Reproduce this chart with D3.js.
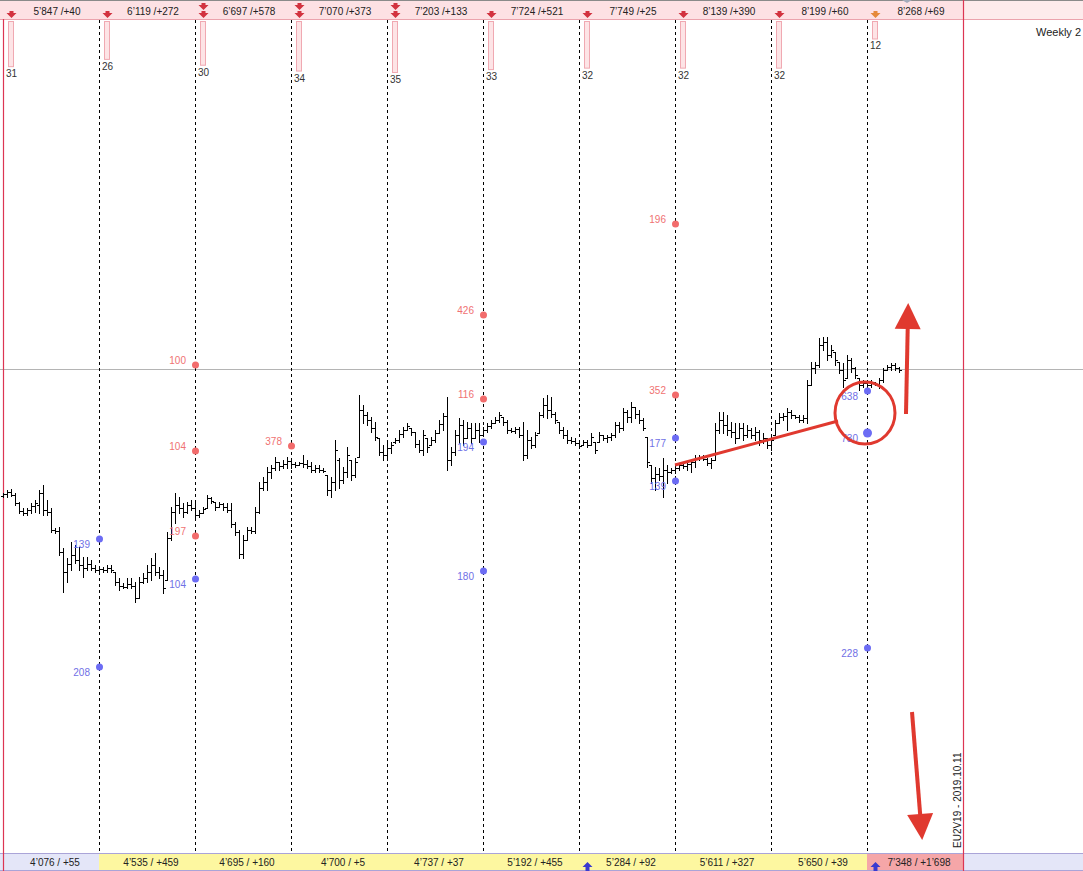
<!DOCTYPE html>
<html>
<head>
<meta charset="utf-8">
<script src="https://cdnjs.cloudflare.com/ajax/libs/d3/7.8.5/d3.min.js"></script>
<style>
body { margin: 0; background: #fff; }
svg { display: block; font-family: "Liberation Sans", Arial, sans-serif; }
</style>
</head>
<body>
<svg></svg>
<script>
var width = 1083, height = 871;
var barsPerWeek = 24;

// weekly header / footer texts
var topLabels = ["5’847 /+40", "6’119 /+272", "6’697 /+578", "7’070 /+373", "7’203 /+133",
                 "7’724 /+521", "7’749 /+25", "8’139 /+390", "8’199 /+60", "8’268 /+69"];
var bottomLabels = ["4’076 / +55", "4’535 / +459", "4’695 / +160", "4’700 / +5", "4’737 / +37",
                    "5’192 / +455", "5’284 / +92", "5’611 / +327", "5’650 / +39", "7’348 / +1’698"];
var bottomState = ["flat", "up", "up", "up", "up", "up", "up", "up", "up", "hot"];
var signalCounts = [31, 26, 30, 34, 35, 33, 32, 32, 32, 12];
var sellArrows = [1, 1, 2, 2, 2, 1, 1, 1, 1, 1];
var buyArrowLines = [6, 9];

// price bars (points)
var highs = [
  957,960,961,957,948,942,942,947,950,960,965,950,942,922,923,902,892,908,905,903,893,893,890,885,
  883,883,885,885,878,872,867,872,872,868,873,877,885,892,897,883,880,918,943,957,953,947,948,950,
  947,940,943,955,953,948,948,947,947,947,928,920,915,923,923,943,968,973,983,985,993,987,990,993,
  992,988,988,995,990,988,985,985,982,975,973,1010,992,983,1003,990,992,1055,1045,1038,1033,1028,1012,1005,
  1007,1008,1012,1020,1023,1027,1022,1018,1010,1020,1012,1013,1020,1030,1037,1053,1003,1020,1032,1030,1028,1027,1027,1027,
  1023,1027,1030,1033,1038,1033,1030,1022,1023,1023,1028,1020,1013,1018,1038,1052,1055,1053,1038,1028,1023,1020,1013,1012,
  1008,1010,1010,1017,1008,1018,1015,1015,1017,1028,1028,1042,1040,1048,1043,1040,1032,1013,985,983,982,992,985,982,
  985,987,987,988,990,995,995,995,992,992,1027,1038,1038,1035,1028,1027,1027,1027,1025,1022,1023,1020,1017,1012,
  1013,1030,1037,1037,1042,1040,1035,1035,1035,1070,1088,1088,1112,1113,1113,1105,1098,1088,1087,1095,1092,1083,1072,1070,
  1068,1070,1068,1072,1082,1085,1087,1087,1083
];
var lows = [
  953,953,954,945,937,935,935,937,938,937,935,935,918,917,895,858,868,880,887,880,873,880,880,878,
  878,878,878,878,865,860,862,862,862,848,852,867,868,870,875,872,857,870,910,927,937,933,937,940,
  932,933,937,942,947,940,943,940,938,923,915,892,892,910,917,917,937,960,960,972,980,980,982,982,
  982,983,985,983,982,978,978,978,978,955,953,960,962,967,973,970,973,993,1027,1025,1018,1010,995,990,
  990,997,1007,1008,1013,1020,1015,1003,998,995,998,1005,1008,1017,1020,980,985,995,1007,1005,1012,1007,1013,1008,
  1015,1018,1022,1027,1028,1025,1017,1018,1017,1013,990,992,1002,1003,1017,1033,1032,1033,1027,1017,1012,1007,1007,1005,
  1002,1005,1003,1005,997,1008,1010,1008,1010,1013,1018,1020,1028,1028,1032,1027,1020,983,967,960,970,953,967,977,
  977,980,982,980,978,983,990,990,985,982,990,1017,1017,1015,1013,1007,1013,1010,1013,1012,1010,1005,1007,1002,
  1000,1015,1027,1030,1020,1032,1032,1028,1028,1027,1065,1077,1083,1100,1090,1093,1085,1077,1063,1072,1078,1072,1060,1063,
  1063,1063,1065,1062,1068,1080,1080,1080,1078
];
var opens = [
  954,956,958,955,947,939,937,940,944,945,957,940,938,920,919,898,878,886,895,890,885,882,886,882,
  880,881,880,882,878,868,864,863,866,864,852,868,872,878,885,878,875,870,912,938,945,942,938,945,
  942,935,937,942,952,948,943,946,943,940,926,918,896,910,920,919,938,962,968,978,982,988,984,986,
  989,986,985,987,986,984,980,982,980,975,960,968,990,970,978,990,975,993,1040,1035,1030,1022,1012,998,
  995,1002,1008,1010,1016,1020,1022,1018,1006,1000,1012,1005,1010,1017,1026,1034,990,998,1015,1025,1012,1022,1012,1020,
  1015,1020,1024,1027,1030,1033,1028,1020,1019,1021,1015,995,1010,1005,1017,1035,1045,1040,1036,1028,1020,1015,1010,1009,
  1007,1005,1008,1005,1008,1008,1015,1012,1013,1015,1025,1022,1038,1033,1043,1036,1030,1013,985,972,976,974,980,978,
  980,982,985,984,986,988,992,993,991,987,990,1020,1030,1025,1020,1018,1012,1022,1015,1020,1015,1018,1010,1012,
  1005,1015,1027,1033,1034,1038,1035,1033,1030,1032,1065,1082,1085,1105,1108,1095,1098,1088,1080,1072,1090,1082,1072,1065,
  1067,1065,1068,1066,1070,1080,1083,1085,1082
];
var closes = [
  956,958,955,947,939,937,940,944,947,957,940,938,920,919,898,878,886,895,890,885,882,886,882,880,
  881,880,882,880,868,864,863,866,864,852,868,872,878,885,878,875,862,912,938,945,942,938,945,942,
  935,937,941,952,949,943,946,943,940,926,918,896,910,920,919,938,962,968,978,982,988,984,986,989,
  986,985,987,986,984,980,982,980,979,960,968,1000,970,978,995,975,988,1040,1035,1030,1022,1013,998,995,
  1002,1005,1010,1016,1020,1024,1018,1006,1000,1015,1003,1010,1017,1026,1034,990,998,1015,1025,1012,1022,1012,1020,1015,
  1020,1024,1027,1030,1035,1028,1020,1019,1021,1015,995,1010,1005,1015,1035,1045,1040,1036,1030,1020,1015,1010,1009,1007,
  1004,1008,1005,1013,1000,1015,1012,1013,1015,1025,1022,1038,1033,1043,1036,1030,1022,988,972,976,974,980,978,980,
  982,985,984,986,988,992,993,991,987,990,1020,1030,1025,1020,1018,1012,1022,1015,1020,1015,1018,1010,1012,1005,
  1010,1027,1033,1034,1038,1035,1033,1030,1032,1065,1082,1085,1105,1108,1095,1100,1090,1080,1070,1090,1082,1075,1065,1067,
  1065,1068,1066,1070,1080,1083,1085,1082,1080
];
var lastPrice = 1081;

// volume levels on the week lines
var sellLevels = [
  {line: 2, price: 1085, label: "100"}, {line: 2, price: 999, label: "104"}, {line: 2, price: 914, label: "197"},
  {line: 3, price: 1004, label: "378"},
  {line: 5, price: 1135, label: "426"}, {line: 5, price: 1051, label: "116"},
  {line: 7, price: 1226, label: "196"}, {line: 7, price: 1055, label: "352"}
];
var buyLevels = [
  {line: 1, price: 911, label: "139"}, {line: 1, price: 783, label: "208"},
  {line: 2, price: 871, label: "104"},
  {line: 5, price: 1008, label: "194"}, {line: 5, price: 879, label: "180"},
  {line: 7, price: 1012, label: "177"}, {line: 7, price: 969, label: "139"},
  {line: 9, price: 1059, label: "638"}, {line: 9, price: 1017, label: "730", big: true}, {line: 9, price: 802, label: "228"}
];

// hand drawn marks (bar index, price)
var trendLine = [[168, 985], [208.75, 1029]];
var circleMark = [215.5, 1037];
var upArrow = [[225.75, 1036], [226.3, 1147]];
var downArrow = [[227.25, 738], [229.8, 610]];

var x = d3.scaleLinear().domain([0, 240]).range([3, 963]);
var y = d3.scaleLinear().domain([579, 1450]).range([height, 0]);
var countScale = d3.scaleLinear().domain([0, 35]).range([0, 51]);
var weeks = d3.range(10);

function lineX(k){ return Math.round(x(k * barsPerWeek)); }

var svg = d3.select('svg')
            .attr('width', width)
            .attr('height', height);

// header strip
var header = svg.append('g');
header.append('rect')
    .attr('x', 0).attr('y', 0).attr('width', width).attr('height', 19)
    .attr('fill', '#fdebec');
header.append('rect')
    .attr('x', 0).attr('y', 0).attr('width', 963).attr('height', 19)
    .attr('fill', '#fde1e4');
header.append('line')
    .attr('x1', 0).attr('x2', width).attr('y1', 19.5).attr('y2', 19.5)
    .attr('stroke', '#eba3ad');
header.append('line')
    .attr('x1', 0).attr('x2', width).attr('y1', 0.5).attr('y2', 0.5)
    .attr('stroke', '#8a8a8a');

header.selectAll('.toplabel')
    .data(weeks)
    .enter()
    .append('text')
        .attr('x', k => (lineX(k) + lineX(k + 1)) / 2 + 6)
        .attr('y', 15)
        .attr('text-anchor', 'middle')
        .attr('font-size', '10px')
        .attr('fill', '#222')
        .text(k => topLabels[k]);

// footer strip
var footer = svg.append('g');
footer.append('rect')
    .attr('x', 0).attr('y', 853).attr('width', width).attr('height', 17)
    .attr('fill', '#e4e6f8');
footer.selectAll('.cell')
    .data(weeks)
    .enter()
    .append('rect')
        .attr('x', k => k === 0 ? 0 : lineX(k))
        .attr('y', 853)
        .attr('width', k => k === 0 ? lineX(1) : lineX(k + 1) - lineX(k))
        .attr('height', 17)
        .attr('fill', k => bottomState[k] === 'hot' ? '#f5a6a8' : bottomState[k] === 'up' ? '#fdf7a0' : '#e4e6f8');
footer.append('line')
    .attr('x1', 0).attr('x2', width).attr('y1', 853.5).attr('y2', 853.5)
    .attr('stroke', '#aaa4d8');
footer.append('line')
    .attr('x1', 0).attr('x2', width).attr('y1', 870.5).attr('y2', 870.5)
    .attr('stroke', '#aaa4d8');
footer.selectAll('.botlabel')
    .data(weeks)
    .enter()
    .append('text')
        .attr('x', k => (lineX(k) + lineX(k + 1)) / 2 + 4)
        .attr('y', 866)
        .attr('text-anchor', 'middle')
        .attr('font-size', '10px')
        .attr('fill', '#222')
        .text(k => bottomLabels[k]);

// last price line
svg.append('line')
    .attr('x1', 0).attr('x2', width)
    .attr('y1', Math.round(y(lastPrice)) + 0.5).attr('y2', Math.round(y(lastPrice)) + 0.5)
    .attr('stroke', '#b4b4b4');

// week separators
svg.append('g')
    .selectAll('line')
    .data(d3.range(1, 10))
    .enter()
    .append('line')
        .attr('x1', k => lineX(k) + 0.5).attr('x2', k => lineX(k) + 0.5)
        .attr('y1', 20).attr('y2', 853)
        .attr('stroke', '#000')
        .attr('stroke-dasharray', '3,3');

[0, 10].forEach(k => {
    svg.append('line')
        .attr('x1', lineX(k) + 0.5).attr('x2', lineX(k) + 0.5)
        .attr('y1', k === 0 ? 19 : 0).attr('y2', height)
        .attr('stroke', '#dc3553')
        .attr('stroke-width', 1.2);
});

// signal count bars under the header
svg.append('g')
    .selectAll('rect')
    .data(weeks)
    .enter()
    .append('rect')
        .attr('x', k => lineX(k) + 5.5)
        .attr('y', 21.5)
        .attr('width', 5)
        .attr('height', k => countScale(signalCounts[k]))
        .attr('fill', '#fde4e6')
        .attr('stroke', '#f0a9b2');

svg.append('g')
    .selectAll('text')
    .data(weeks)
    .enter()
    .append('text')
        .attr('x', k => lineX(k) + 3)
        .attr('y', k => 21 + countScale(signalCounts[k]) + 11)
        .attr('font-size', '10px')
        .attr('fill', '#333')
        .text(k => signalCounts[k]);

// sell arrows in the header
var arrowData = [];
weeks.forEach(k => {
    for(var j = 0; j < sellArrows[k]; j++){
        arrowData.push({k: k, top: sellArrows[k] === 2 && j === 0 ? 3 : 11});
    }
});
svg.append('g')
    .selectAll('path')
    .data(arrowData)
    .enter()
    .append('path')
        .attr('d', d => {
            var cx = lineX(d.k) + 8.5, t = d.top;
            return `M${cx-2},${t}H${cx+2}V${t+2}H${cx+5}L${cx},${t+7}L${cx-5},${t+2}H${cx-2}Z`;
        })
        .attr('fill', d => d.k === 9 ? '#e5893a' : '#d2323f');

svg.append('path')
    .attr('d', `M${lineX(9)+35},0H${lineX(9)+45}L${lineX(9)+40},3Z`)
    .attr('fill', '#a4abbb');

// buy arrows in the footer
svg.append('g')
    .selectAll('path')
    .data(buyArrowLines)
    .enter()
    .append('path')
        .attr('d', k => {
            var cx = lineX(k) + 8.5;
            return `M${cx},862L${cx+5},867H${cx+2}V871H${cx-2}V867H${cx-5}Z`;
        })
        .attr('fill', '#3a3ad0');

// OHLC bars
svg.append('g')
    .attr('shape-rendering', 'crispEdges')
    .selectAll('path')
    .data(d3.range(highs.length))
    .enter()
    .append('path')
        .attr('d', i => {
            var cx = Math.round(x(i)) + 0.5;
            var yo = Math.round(y(opens[i])) + 0.5;
            var yc = Math.round(y(closes[i])) + 0.5;
            return `M${cx},${Math.round(y(highs[i]))}V${Math.round(y(lows[i])) + 1}` +
                   `M${cx-2.5},${yo}H${cx}M${cx},${yc}H${cx+2.5}`;
        })
        .attr('stroke', '#000')
        .attr('fill', 'none');

// volume levels
var levels = svg.append('g');
levels.selectAll('.sell')
    .data(sellLevels)
    .enter()
    .append('circle')
        .attr('cx', d => lineX(d.line) + 0.5)
        .attr('cy', d => y(d.price))
        .attr('r', 3.5)
        .attr('fill', '#f26c6c');
levels.selectAll('.selltext')
    .data(sellLevels)
    .enter()
    .append('text')
        .attr('x', d => lineX(d.line) - 9)
        .attr('y', d => y(d.price) - 1)
        .attr('text-anchor', 'end')
        .attr('font-size', '10px')
        .attr('fill', '#f07272')
        .text(d => d.label);
levels.selectAll('.buy')
    .data(buyLevels)
    .enter()
    .append('circle')
        .attr('cx', d => lineX(d.line) + 0.5)
        .attr('cy', d => y(d.price))
        .attr('r', d => d.big ? 4.5 : 3.5)
        .attr('fill', '#6c6cf4');
levels.selectAll('.buytext')
    .data(buyLevels)
    .enter()
    .append('text')
        .attr('x', d => lineX(d.line) - 9)
        .attr('y', d => y(d.price) + 9)
        .attr('text-anchor', 'end')
        .attr('font-size', '10px')
        .attr('fill', '#7070e6')
        .text(d => d.label);

// side texts
svg.append('text')
    .attr('x', 1036).attr('y', 36)
    .attr('font-size', '11px')
    .attr('fill', '#222')
    .text('Weekly 2');
svg.append('text')
    .attr('transform', 'translate(961,848) rotate(-90)')
    .attr('font-size', '10px')
    .attr('fill', '#222')
    .text('EU2V19 - 2019.10.11');

// red annotations
var red = '#e0392f';
var notes = svg.append('g');
notes.append('line')
    .attr('x1', x(trendLine[0][0])).attr('y1', y(trendLine[0][1]))
    .attr('x2', x(trendLine[1][0])).attr('y2', y(trendLine[1][1]))
    .attr('stroke', red).attr('stroke-width', 3);
notes.append('ellipse')
    .attr('cx', x(circleMark[0])).attr('cy', y(circleMark[1]))
    .attr('rx', 30).attr('ry', 31)
    .attr('fill', 'none').attr('stroke', red).attr('stroke-width', 3);

function drawArrow(a){
    var x0 = x(a[0][0]), y0 = y(a[0][1]), x1 = x(a[1][0]), y1 = y(a[1][1]);
    var len = Math.hypot(x1 - x0, y1 - y0);
    var ux = (x1 - x0) / len, uy = (y1 - y0) / len;
    var nx = -uy, ny = ux;
    var head = 26, half = 13;
    notes.append('line')
        .attr('x1', x0).attr('y1', y0)
        .attr('x2', x1 - ux * head * 0.8).attr('y2', y1 - uy * head * 0.8)
        .attr('stroke', red).attr('stroke-width', 4);
    var bx = x1 - ux * head, by = y1 - uy * head;
    notes.append('path')
        .attr('d', `M${x1},${y1}L${bx + nx * half},${by + ny * half}L${bx - nx * half},${by - ny * half}Z`)
        .attr('fill', red);
}
drawArrow(upArrow);
drawArrow(downArrow);
</script>
</body>
</html>
